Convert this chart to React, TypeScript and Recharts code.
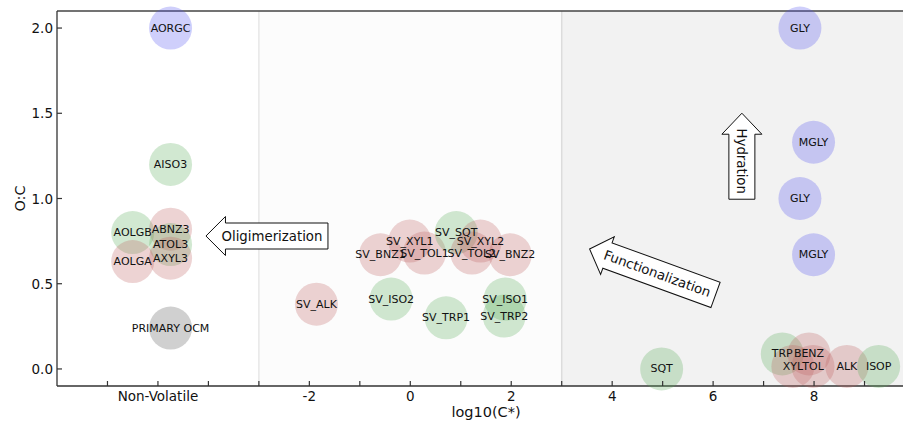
import React from 'react';
import {
    ScatterChart,
    Scatter,
    XAxis,
    YAxis,
    ReferenceArea,
    ReferenceLine,
    ReferenceDot,
} from 'recharts';

// species, their volatility (log10 C*) and O:C ratio
const names = [
    'AORGC', 'AISO3', 'AOLGB', 'ABNZ3', 'ATOL3', 'AXYL3', 'AOLGA', 'PRIMARY OCM',
    'SV_ALK', 'SV_ISO2', 'SV_TRP1', 'SV_ISO1', 'SV_TRP2', 'SV_BNZ1', 'SV_XYL1', 'SV_TOL1',
    'SV_SQT', 'SV_XYL2', 'SV_TOL2', 'SV_BNZ2',
    'GLY', 'MGLY', 'GLY', 'MGLY', 'SQT', 'TRP', 'BENZ', 'XYL', 'TOL', 'ALK', 'ISOP',
];
const logC = [
    -4.75, -4.75, -5.5, -4.75, -4.75, -4.75, -5.5, -4.75,
    -1.86, -0.38, 0.71, 1.88, 1.86, -0.59, -0.01, 0.28,
    0.91, 1.39, 1.22, 1.98,
    7.72, 7.99, 7.72, 7.99, 4.98, 7.37, 7.9, 7.58, 7.98, 8.65, 9.28,
];
const oc = [
    2.0, 1.2, 0.8, 0.82, 0.73, 0.65, 0.63, 0.24,
    0.38, 0.41, 0.3, 0.41, 0.31, 0.67, 0.75, 0.68,
    0.8, 0.75, 0.68, 0.67,
    2.0, 1.33, 1.0, 0.67, 0.0, 0.088, 0.088, 0.015, 0.015, 0.015, 0.015,
];
const kinds = [
    'b', 'g', 'g', 'r', 'g', 'r', 'r', 'k',
    'r', 'g', 'g', 'g', 'g', 'r', 'r', 'r',
    'g', 'r', 'r', 'r',
    'b', 'b', 'b', 'b', 'g', 'g', 'r', 'r', 'r', 'r', 'g',
];

const xTicks = [-6, -5, -4, -3, -2, -1, 0, 1, 2, 3, 4, 5, 6, 7, 8, 9];
const xLabelTicks = [-5, -2, 0, 2, 4, 6, 8];
const xLabelText = ['Non-Volatile', '-2', '0', '2', '4', '6', '8'];
const yTicks = [0, 0.5, 1, 1.5, 2];
const yLabelText = ['0.0', '0.5', '1.0', '1.5', '2.0'];

const arrowText = ['Oligimerization', 'Functionalization', 'Hydration'];
const arrowX = [-2.84, 4.8, 6.57];
const arrowY = [0.78, 0.569, 1.248];

const kindColor: Record<string, string> = {
    r: '#c06060',
    g: '#5aae5a',
    b: '#5252f0',
    k: '#555555',
};

const points = names.map((name, i) => ({
    name,
    x: logC[i],
    y: oc[i],
    kind: kinds[i],
}));

const FONT = '"DejaVu Sans", sans-serif';
const R = 21.5;

const CircleShape = (props: any) => {
    const { cx, cy, payload } = props;
    if (cx == null || cy == null) return <g />;
    return <circle cx={cx} cy={cy} r={R} fill={kindColor[payload.kind]} fillOpacity={0.28} />;
};

const LabelShape = (props: any) => {
    const { cx, cy, payload } = props;
    if (cx == null || cy == null) return <g />;
    return (
        <text
            x={cx}
            y={cy}
            textAnchor="middle"
            dominantBaseline="central"
            fontFamily={FONT}
            fontSize={11}
            fill="#111"
        >
            {payload.name}
        </text>
    );
};

const arrowDims = [
    { len: 122, head: 19.5, headHalf: 19.5, bodyHalf: 13, angle: 0 },
    { len: 134, head: 19, headHalf: 20, bodyHalf: 13.5, angle: 20 },
    { len: 86, head: 21, headHalf: 20, bodyHalf: 13, angle: 90 },
];

const makeArrow = (i: number) => (props: any) => {
    const { cx, cy } = props;
    if (cx == null || cy == null) return <g />;
    const d = arrowDims[i];
    const h = d.len / 2;
    const pts = [
        [-h, 0],
        [-h + d.head, -d.headHalf],
        [-h + d.head, -d.bodyHalf],
        [h, -d.bodyHalf],
        [h, d.bodyHalf],
        [-h + d.head, d.bodyHalf],
        [-h + d.head, d.headHalf],
    ]
        .map((p) => p.join(','))
        .join(' ');
    return (
        <g transform={`translate(${cx},${cy}) rotate(${d.angle})`}>
            <polygon points={pts} fill="#fff" stroke="#111" strokeWidth={1} />
            <text
                x={5}
                y={0}
                textAnchor="middle"
                dominantBaseline="central"
                fontFamily={FONT}
                fontSize={13.3}
                fill="#111"
            >
                {arrowText[i]}
            </text>
        </g>
    );
};

const BottomTick = (props: any) => {
    const { x, y, payload } = props;
    const idx = xLabelTicks.indexOf(payload.value);
    return (
        <g>
            <line x1={x} y1={y} x2={x} y2={y - 5} stroke="#333" strokeWidth={1.2} />
            {idx >= 0 && (
                <text x={x} y={y + 15} textAnchor="middle" fontFamily={FONT} fontSize={13.5} fill="#111">
                    {xLabelText[idx]}
                </text>
            )}
        </g>
    );
};

const TopTick = (props: any) => {
    const { x, y } = props;
    return <line x1={x} y1={y} x2={x} y2={y + 5} stroke="#333" strokeWidth={1.2} />;
};

const LeftTick = (props: any) => {
    const { x, y, payload } = props;
    const idx = yTicks.indexOf(payload.value);
    return (
        <g>
            <line x1={x} y1={y} x2={x + 5} y2={y} stroke="#333" strokeWidth={1.2} />
            <text
                x={x - 4}
                y={y}
                textAnchor="end"
                dominantBaseline="central"
                fontFamily={FONT}
                fontSize={13.5}
                fill="#111"
            >
                {yLabelText[idx]}
            </text>
        </g>
    );
};

export default function App() {
    return (
        <div
            style={{
                position: 'absolute',
                left: 0,
                top: 0,
                width: 903,
                height: 422,
                overflow: 'hidden',
                background: '#fff',
            }}
        >
            <ScatterChart width={920} height={422} margin={{ top: 0, right: 5, bottom: 0, left: 0 }}>
                <XAxis
                    xAxisId="top"
                    orientation="top"
                    type="number"
                    dataKey="x"
                    domain={[-7, 10]}
                    ticks={xTicks}
                    interval={0}
                    height={11}
                    tickSize={0}
                    tickMargin={0}
                    tickLine={false}
                    tick={<TopTick />}
                    axisLine={{ stroke: '#444', strokeWidth: 1.3 }}
                />
                <XAxis
                    type="number"
                    dataKey="x"
                    domain={[-7, 10]}
                    ticks={xTicks}
                    interval={0}
                    height={36}
                    tickSize={0}
                    tickMargin={0}
                    tickLine={false}
                    tick={<BottomTick />}
                    axisLine={{ stroke: '#333', strokeWidth: 1.3 }}
                    label={{
                        content: (p: any) => {
                            const vb = p.viewBox;
                            return (
                                <text
                                    x={vb.x + vb.width / 2}
                                    y={vb.y + 31}
                                    textAnchor="middle"
                                    fontFamily={FONT}
                                    fontSize={14.5}
                                    fill="#111"
                                >
                                    log10(C*)
                                </text>
                            );
                        },
                    }}
                />
                <YAxis
                    type="number"
                    dataKey="y"
                    domain={[-0.1, 2.1]}
                    ticks={yTicks}
                    interval={0}
                    width={57}
                    tickSize={0}
                    tickMargin={0}
                    tickLine={false}
                    tick={<LeftTick />}
                    axisLine={{ stroke: '#333', strokeWidth: 1.3 }}
                    label={{
                        content: (p: any) => {
                            const vb = p.viewBox;
                            const cx = 20;
                            const cy = vb.y + vb.height / 2;
                            return (
                                <text
                                    x={cx}
                                    y={cy}
                                    transform={`rotate(-90 ${cx} ${cy})`}
                                    textAnchor="middle"
                                    dominantBaseline="central"
                                    fontFamily={FONT}
                                    fontSize={14.5}
                                    fill="#111"
                                >
                                    O:C
                                </text>
                            );
                        },
                    }}
                />
                <ReferenceArea x1={-3} x2={3} y1={-0.1} y2={2.1} fill="#fcfcfc" fillOpacity={1} ifOverflow="hidden" />
                <ReferenceArea x1={3} x2={10} y1={-0.1} y2={2.1} fill="#f2f2f2" fillOpacity={1} ifOverflow="hidden" />
                <ReferenceLine x={-3} stroke="#e2e2e2" strokeWidth={1.2} />
                <ReferenceLine x={3} stroke="#dcdcdc" strokeWidth={1.5} />
                <Scatter data={points} shape={CircleShape} isAnimationActive={false} />
                <Scatter data={points} shape={LabelShape} isAnimationActive={false} />
                {arrowText.map((t, i) => (
                    <ReferenceDot key={t} x={arrowX[i]} y={arrowY[i]} r={1} shape={makeArrow(i)} />
                ))}
            </ScatterChart>
        </div>
    );
}
